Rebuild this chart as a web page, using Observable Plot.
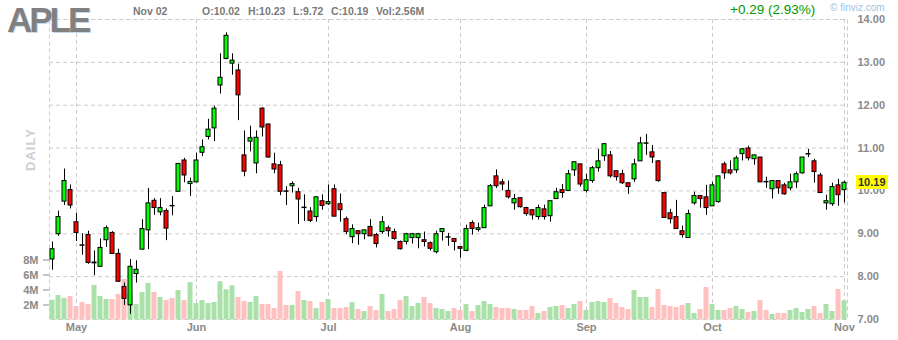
<!DOCTYPE html>
<html><head><meta charset="utf-8">
<script src="https://cdn.jsdelivr.net/npm/d3@7"></script>
<script src="https://cdn.jsdelivr.net/npm/@observablehq/plot@0.6"></script>
<style>
body{margin:0;background:#fff;}
#wrap{position:relative;width:898px;height:340px;overflow:hidden;font-family:Arial,"Liberation Sans",sans-serif;}
#wrap svg{position:absolute;left:0;top:0;}
.hd{position:absolute;white-space:pre;line-height:1;}
</style></head><body><div id="wrap"></div>
<script>
const dates = [
"2020-04-27","2020-04-28","2020-04-29","2020-04-30",
"2020-05-01","2020-05-04","2020-05-05","2020-05-06","2020-05-07","2020-05-08","2020-05-11","2020-05-12","2020-05-13","2020-05-14","2020-05-15","2020-05-18","2020-05-19","2020-05-20","2020-05-21","2020-05-22","2020-05-26","2020-05-27","2020-05-28","2020-05-29",
"2020-06-01","2020-06-02","2020-06-03","2020-06-04","2020-06-05","2020-06-08","2020-06-09","2020-06-10","2020-06-11","2020-06-12","2020-06-15","2020-06-16","2020-06-17","2020-06-18","2020-06-19","2020-06-22","2020-06-23","2020-06-24","2020-06-25","2020-06-26","2020-06-29","2020-06-30",
"2020-07-01","2020-07-02","2020-07-06","2020-07-07","2020-07-08","2020-07-09","2020-07-10","2020-07-13","2020-07-14","2020-07-15","2020-07-16","2020-07-17","2020-07-20","2020-07-21","2020-07-22","2020-07-23","2020-07-24","2020-07-27","2020-07-28","2020-07-29","2020-07-30","2020-07-31",
"2020-08-03","2020-08-04","2020-08-05","2020-08-06","2020-08-07","2020-08-10","2020-08-11","2020-08-12","2020-08-13","2020-08-14","2020-08-17","2020-08-18","2020-08-19","2020-08-20","2020-08-21","2020-08-24","2020-08-25","2020-08-26","2020-08-27","2020-08-28","2020-08-31",
"2020-09-01","2020-09-02","2020-09-03","2020-09-04","2020-09-08","2020-09-09","2020-09-10","2020-09-11","2020-09-14","2020-09-15","2020-09-16","2020-09-17","2020-09-18","2020-09-21","2020-09-22","2020-09-23","2020-09-24","2020-09-25","2020-09-28","2020-09-29","2020-09-30",
"2020-10-01","2020-10-02","2020-10-05","2020-10-06","2020-10-07","2020-10-08","2020-10-09","2020-10-12","2020-10-13","2020-10-14","2020-10-15","2020-10-16","2020-10-19","2020-10-20","2020-10-21","2020-10-22","2020-10-23","2020-10-26","2020-10-27","2020-10-28","2020-10-29","2020-10-30",
"2020-11-02"];
const open = [8.40,8.99,9.75,10.02,
9.27,8.73,8.97,8.31,8.23,8.85,9.02,8.53,7.76,7.33,8.06,8.63,9.08,9.77,9.50,9.53,9.65,9.98,10.71,10.16,
10.20,10.89,11.26,11.46,12.46,13.08,12.97,12.81,10.83,11.15,10.64,11.92,11.55,10.62,10.60,9.99,10.11,9.97,9.60,9.52,9.39,9.76,
9.69,10.04,9.69,9.34,8.92,9.06,8.99,9.16,8.97,9.04,9.13,9.04,8.81,8.81,8.90,8.90,8.85,8.78,8.57,9.04,8.91,8.88,
8.69,8.60,9.25,9.09,9.13,9.64,10.34,10.20,10.00,9.71,9.83,9.60,9.55,9.39,9.57,9.41,9.81,10.02,10.00,10.48,10.62,
10.00,10.23,10.53,10.81,10.83,10.46,10.39,10.18,10.27,10.69,11.10,10.90,10.69,9.95,9.48,9.39,9.06,8.90,9.71,9.88,9.85,
9.64,9.74,10.62,10.48,10.48,10.86,10.99,10.74,10.78,10.21,10.04,10.23,10.13,10.06,10.20,10.41,10.85,10.69,10.36,9.71,9.69,10.13,
10.02];
const high = [8.81,9.53,10.51,10.14,
9.48,9.00,9.06,8.60,8.88,9.18,9.05,8.64,7.85,8.40,8.37,9.33,10.06,9.82,9.82,9.58,9.87,10.64,10.76,10.30,
10.88,11.19,11.67,11.98,13.20,13.69,13.20,12.96,11.40,11.51,11.40,11.94,11.56,10.88,10.69,10.10,10.21,10.06,9.91,9.61,9.87,9.91,
10.14,10.14,9.93,9.39,9.21,9.06,9.08,9.33,9.01,9.40,9.18,9.11,8.83,9.01,9.01,9.01,9.04,8.81,9.06,9.11,9.01,8.88,
8.69,9.20,9.30,9.25,9.67,10.15,10.49,10.27,10.23,9.92,9.83,9.62,9.55,9.67,9.67,9.76,10.06,10.15,10.48,10.67,10.62,
10.39,10.57,10.97,11.11,10.92,10.46,10.48,10.18,10.74,11.25,11.32,11.06,10.71,9.97,9.57,9.78,9.18,9.55,9.97,9.88,10.13,
10.20,10.34,10.67,10.70,10.81,10.99,11.04,10.83,10.78,10.32,10.23,10.23,10.18,10.39,10.44,10.78,10.97,10.74,10.41,9.90,10.18,10.27,
10.23];
const low = [8.15,8.94,9.66,9.58,
8.82,8.50,8.29,8.02,8.22,8.68,8.52,7.87,7.33,7.12,7.85,8.62,8.63,9.43,9.42,8.84,9.42,9.97,10.19,9.87,
10.19,10.80,11.19,11.15,12.26,13.06,12.70,11.64,10.33,10.91,10.40,11.26,10.76,10.40,9.89,9.66,9.95,9.22,9.29,9.26,9.27,9.55,
9.66,9.39,9.27,8.98,8.77,8.73,8.86,8.94,8.67,8.99,8.92,8.85,8.62,8.74,8.76,8.65,8.69,8.60,8.53,8.83,8.71,8.60,
8.43,8.58,8.97,9.04,9.13,9.64,10.06,10.00,9.81,9.55,9.60,9.41,9.32,9.32,9.32,9.27,9.81,9.83,10.00,10.34,10.09,
9.95,10.18,10.44,10.69,10.30,10.23,10.15,9.92,10.20,10.69,10.83,10.64,10.20,9.37,9.23,9.11,8.90,8.90,9.67,9.60,9.43,
9.64,9.71,10.27,10.37,10.41,10.70,10.70,10.60,10.20,10.06,9.81,9.92,9.90,10.00,10.06,10.39,10.78,10.18,9.95,9.55,9.64,9.64,
9.72];
const close = [8.64,9.39,10.23,9.66,
9.02,8.72,8.32,8.33,8.67,9.13,8.53,7.88,7.48,8.23,8.16,9.11,9.71,9.60,9.60,9.12,9.64,10.63,10.36,10.21,
10.71,11.02,11.43,11.92,12.64,13.62,13.04,12.23,10.45,11.23,11.24,11.48,10.78,10.50,9.98,9.98,10.16,9.80,9.61,9.30,9.85,9.65,
9.74,9.40,9.55,9.04,9.11,8.99,9.08,8.94,8.76,9.27,9.06,8.88,8.64,8.99,8.99,8.99,8.81,8.65,8.99,9.11,8.92,8.81,
8.65,9.11,9.11,9.13,9.60,10.11,10.11,10.15,9.85,9.81,9.62,9.46,9.43,9.60,9.39,9.76,9.97,9.95,10.39,10.67,10.15,
10.25,10.53,10.69,11.09,10.34,10.32,10.18,10.09,10.62,11.11,11.11,10.78,10.23,9.37,9.34,9.11,8.97,9.46,9.88,9.81,9.60,
10.13,10.34,10.41,10.41,10.76,10.97,10.76,10.83,10.20,10.20,10.23,10.06,9.92,10.20,10.39,10.78,10.86,10.44,9.95,9.76,10.09,9.90,
10.19];
const volume = [2.64,3.27,2.87,3.13,
1.80,2.33,2.07,4.60,3.13,2.73,2.73,3.40,5.40,3.50,2.07,3.67,4.87,3.67,3.00,2.60,2.87,3.93,2.60,4.97,
2.20,2.60,2.20,2.33,5.10,4.03,4.57,3.00,2.47,2.33,3.13,2.07,2.07,1.53,6.47,1.93,1.93,3.80,2.60,2.47,1.53,2.33,
2.73,1.53,1.53,1.67,2.33,1.40,1.13,1.80,1.27,3.40,1.13,1.40,2.60,3.13,1.80,2.20,3.00,2.20,1.53,1.40,1.13,1.53,
1.27,2.07,1.13,1.93,2.47,2.07,1.67,1.53,1.53,1.40,1.27,1.27,1.80,0.87,1.13,1.67,1.80,1.93,1.53,2.07,2.47,
1.27,2.33,2.47,2.33,2.87,2.20,1.67,1.40,3.93,3.00,3.00,1.67,4.07,1.93,1.80,1.67,1.93,2.20,0.87,1.40,4.33,
2.07,1.27,1.27,1.53,1.80,1.40,1.00,1.13,2.60,1.27,0.73,0.87,0.87,1.27,1.53,1.00,1.40,1.80,0.87,2.07,1.13,4.07,
2.56];

const monthTicks = ["2020-05-01","2020-06-01","2020-07-01","2020-08-03","2020-09-01","2020-10-01","2020-11-02"];
const monthLabels = ["May","Jun","Jul","Aug","Sep","Oct","Nov"];
const priceTicks = [7,8,9,10,11,12,13,14];
const gridPrices = [8,9,10,11,12,13,14];
const volTicks = [2,4,6,8];
const ticker = "APLE";
const headerDate = "Nov 02";
const headerO = "O:10.02", headerH = "H:10.23", headerL = "L:9.72", headerC = "C:10.19", headerVol = "Vol:2.56M";
const changeText = "+0.29 (2.93%)";
const lastPrice = 10.19;

const rows = dates.map((d, i) => ({date: d, open: open[i], high: high[i], low: low[i], close: close[i], volume: volume[i]}));
const upCol = "#00ff00", downCol = "#ff0000";
const volUp = "#a9e1a9", volDown = "#ffc0c0";
const gridCol = "#cccccc";

const W = 898, H = 340;
const common = {
  width: W, height: H, marginLeft: 49, marginRight: 51, marginTop: 19, marginBottom: 21,
  style: {background: "transparent", fontFamily: "Arial, 'Liberation Sans', sans-serif", fontSize: "11px", fontWeight: "bold", color: "#8a8a8a", overflow: "visible"}
};
const xBand = {type: "band", domain: dates, padding: 0, align: 0.5};

// Layer 1: grid and axes
const back = Plot.plot({
  ...common,
  x: {...xBand, axis: "bottom", ticks: monthTicks, tickFormat: d => monthLabels[monthTicks.indexOf(d)], tickSize: 0, tickPadding: 4, label: null},
  y: {domain: [7, 14], axis: "right", ticks: priceTicks, tickFormat: d => d.toFixed(2), tickSize: 0, tickPadding: 10, label: null},
  marks: [
    Plot.frame({stroke: gridCol, strokeDasharray: "4,3"}),
    Plot.ruleY(gridPrices, {stroke: gridCol, strokeDasharray: "4,3"}),
    Plot.ruleX(monthTicks, {stroke: gridCol, strokeDasharray: "4,3"})
  ]
});

// Layer 2: volume
const vol = Plot.plot({
  ...common,
  x: {...xBand, axis: null},
  y: {domain: [0, 8], range: [319.5, 259.5], axis: "left", ticks: volTicks, tickFormat: d => d + "M", tickSize: 6, tickPadding: 5, label: null},
  marks: [
    Plot.barY(rows, {x: "date", y: "volume", fill: d => d.close >= d.open ? volUp : volDown, insetLeft: 0.5, insetRight: 0.5})
  ]
});

// Layer 3: candles
const front = Plot.plot({
  ...common,
  x: {...xBand, axis: null},
  y: {domain: [7, 14], axis: null},
  marks: [
    Plot.ruleX(rows, {x: "date", y1: "low", y2: "high", stroke: "#000", strokeWidth: 1}),
    Plot.barY(rows, {x: "date", y1: "open", y2: "close", fill: d => d.close >= d.open ? upCol : downCol, stroke: "#000", strokeWidth: 1, insetLeft: 1, insetRight: 1})
  ]
});

const wrap = document.getElementById("wrap");
wrap.append(back, vol, front);

function hd(text, left, top, css) {
  const el = document.createElement("div");
  el.className = "hd";
  el.textContent = text;
  el.style.left = left + "px";
  el.style.top = top + "px";
  Object.assign(el.style, css);
  wrap.append(el);
  return el;
}
const grey = {fontSize: "10.5px", fontWeight: "bold", color: "#7a7a7a"};
hd(ticker, 7, 0, {fontSize: "35px", lineHeight: "normal", fontWeight: "bold", color: "#808080", letterSpacing: "-3px", paddingRight: "5px", textShadow: "1px 1px 0 #c8d8ec"});
hd(headerDate, 133, 6, grey);
hd(headerO, 202, 6, grey);
hd(headerH, 248, 6, grey);
hd(headerL, 293, 6, grey);
hd(headerC, 331, 6, grey);
hd(headerVol, 376, 6, grey);
hd(changeText, 730, 3, {fontSize: "13.5px", color: "#009900"});
hd("\u00a9 finviz.com", 830, 3, {fontSize: "10px", color: "#9cc3e6"});
hd("DAILY", 9, 142.5, {fontSize: "13px", fontWeight: "bold", color: "#cfcfcf", letterSpacing: "1px", transform: "rotate(-90deg)", transformOrigin: "center"});

// current price tag placed with the plot's own y scale
const ys = front.scale("y");
const py = ys.apply(lastPrice);
hd(lastPrice.toFixed(2), 856, py - 7, {fontSize: "11px", fontWeight: "bold", color: "#333", background: "#ffff00", padding: "1.5px 2px 1.5px 2px", width: "28px"});
</script></body></html>
